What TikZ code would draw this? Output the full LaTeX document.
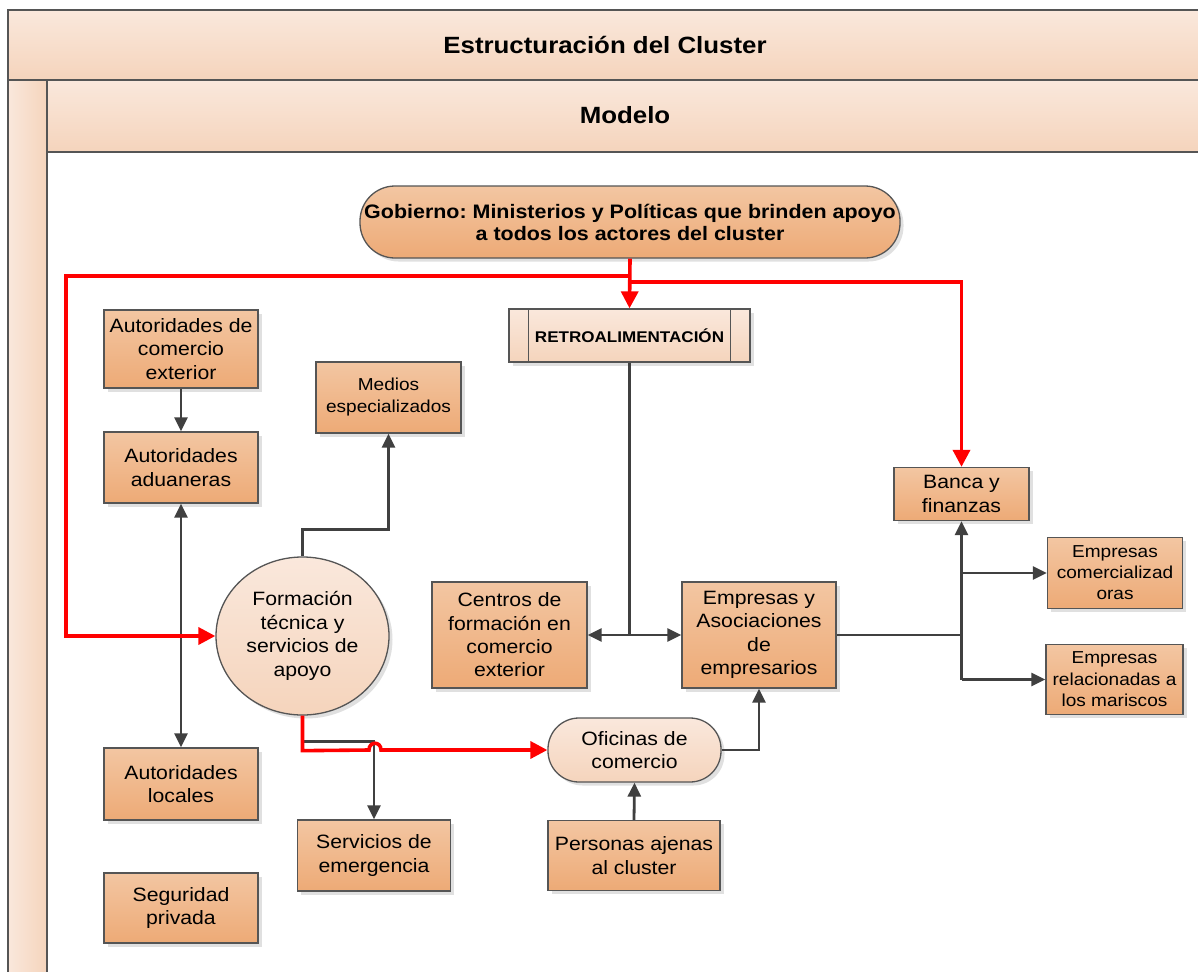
\documentclass[tikz,border=0pt]{standalone}
\usepackage{fontspec}
\setmainfont{Liberation Sans}[FakeStretch=1.1]
\usetikzlibrary{arrows.meta,shapes.geometric,shadows,calc}
\frenchspacing

\definecolor{boxtop}{HTML}{F3C6A2}
\definecolor{boxbot}{HTML}{EDAA76}
\definecolor{paletop}{HTML}{FAE8DC}
\definecolor{palebot}{HTML}{F5D4BC}
\definecolor{edge}{HTML}{555555}
\definecolor{wire}{HTML}{404040}
\definecolor{alert}{HTML}{FF0000}

\tikzset{
  softshadow/.style={drop shadow={shadow xshift=3.5pt, shadow yshift=-3.5pt, fill=black, opacity=0.12}},
  actor/.style={rectangle, draw=edge, line width=1.3pt, top color=boxtop, bottom color=boxbot,
    inner sep=0pt, align=center, softshadow, font=\fontsize{19.3}{23.5}\selectfont},
  paleactor/.style={draw=edge, line width=1.3pt, top color=paletop, bottom color=palebot,
    inner sep=0pt, align=center, softshadow, font=\fontsize{19.3}{23.5}\selectfont},
  wiretip/.tip={Triangle[length=14pt,width=13pt]},
  redtip/.tip={Triangle[length=17pt,width=17pt]},
  wirearrow/.style={draw=wire, line width=2.8pt, -wiretip},
  wireline/.style={draw=wire, line width=2.8pt},
  redarrow/.style={draw=alert, line width=3.6pt, -redtip},
  headtext/.style={font=\fontsize{23.5}{28}\selectfont\bfseries},
}

\begin{document}
\begin{tikzpicture}[x=1pt,y=-1pt]
\useasboundingbox (0,0) rectangle (1198,971);
\fill[white] (0,0) rectangle (1198,971);
\begin{scope}
\clip (0,0) rectangle (1198,971);

% frame: title band, side lane and model band
\shade[top color=paletop, bottom color=palebot] (8,10) rectangle (1210,80);
\shade[left color=paletop, right color=palebot] (8,80) rectangle (47,990);
\shade[top color=paletop, bottom color=palebot] (47,80) rectangle (1210,152);
\draw[edge, line width=1.8pt] (8,990) -- (8,10) -- (1210,10);
\draw[edge, line width=1.8pt] (8,80) -- (1210,80);
\draw[edge, line width=1.8pt] (47,80) -- (47,990);
\draw[edge, line width=1.8pt] (47,152) -- (1210,152);

\node[headtext] (title) at (605,45) {Estructuración del Cluster};
\node[headtext] (modelo) at (625,115) {Modelo};

% actors
\node[actor, minimum width=540pt, minimum height=72pt, rounded corners=35pt,
      font=\fontsize{19.5}{22}\selectfont\bfseries] (gob) at (630,222)
  {Gobierno: Ministerios y Políticas que brinden apoyo\\a todos los actores del cluster};

\node[paleactor, rectangle, minimum width=241pt, minimum height=53pt,
      font=\fontsize{15.5}{18}\selectfont\bfseries] (retro) at (629.5,335.5) {RETROALIMENTACIÓN};
\draw[edge, line width=1.3pt] ($(retro.north west)+(20,0)$) -- ($(retro.south west)+(20,0)$);
\draw[edge, line width=1.3pt] ($(retro.north east)+(-20,0)$) -- ($(retro.south east)+(-20,0)$);

\node[actor, minimum width=154pt, minimum height=78pt] (ace) at (181,349)
  {Autoridades de\\comercio\\exterior};
\node[actor, minimum width=154pt, minimum height=71pt] (adu) at (181,467.5)
  {Autoridades\\aduaneras};
\node[actor, minimum width=154pt, minimum height=72pt] (loc) at (181,784)
  {Autoridades\\locales};
\node[actor, minimum width=154pt, minimum height=70pt] (seg) at (181,908)
  {Seguridad\\privada};

\node[actor, minimum width=145pt, minimum height=71pt,
      font=\fontsize{17.3}{22}\selectfont] (med) at (388.5,397.5)
  {Medios\\especializados};

\node[paleactor, ellipse, minimum width=173pt, minimum height=158pt] (form) at (302.5,636)
  {Formación\\técnica y\\servicios de\\apoyo};

\node[actor, minimum width=153pt, minimum height=71pt] (serv) at (374,855.5)
  {Servicios de\\emergencia};

\node[actor, minimum width=155pt, minimum height=106pt,
      font=\fontsize{19.3}{23.3}\selectfont] (cen) at (509.5,635)
  {Centros de\\formación en\\comercio\\exterior};
\node[actor, minimum width=154pt, minimum height=106pt,
      font=\fontsize{19.3}{23.3}\selectfont] (emp) at (759,635)
  {Empresas y\\Asociaciones\\de\\empresarios};

\node[paleactor, rectangle, minimum width=173pt, minimum height=64pt, rounded corners=31pt] (ofi) at (634.5,750)
  {Oficinas de\\comercio};
\node[actor, minimum width=172pt, minimum height=70pt] (per) at (634,855.5)
  {Personas ajenas\\al cluster};

\node[actor, minimum width=135pt, minimum height=53pt,
      font=\fontsize{19.3}{24}\selectfont] (ban) at (961.5,494)
  {Banca y\\finanzas};
\node[actor, minimum width=135pt, minimum height=71pt,
      font=\fontsize{17.3}{21}\selectfont] (ecom) at (1115,573)
  {Empresas\\comercializad\\oras};
\node[actor, minimum width=137pt, minimum height=70pt,
      font=\fontsize{17.3}{21.5}\selectfont] (erel) at (1114.5,679.5)
  {Empresas\\relacionadas a\\los mariscos};

% connection points
\coordinate (redleft) at (66,276);
\coordinate (redright) at (961.5,282);
\coordinate (split) at (retro.south |- cen.east);
\coordinate (hub) at (ban.south |- emp.east);

% dark connectors
\draw[wirearrow] (ace) -- (adu);
\draw[wireline, wiretip-wiretip] (adu) -- (loc);
\draw[wirearrow] (form.north) -- ++(0,-27) -| (med.south);
\draw[wirearrow] (form.south) -- ++(0,26) -| (serv.north);
\draw[wireline] (retro.south) -- (split);
\draw[wirearrow] (split) -- (cen.east);
\draw[wirearrow] (split) -- (emp.west);
\draw[wirearrow] (ofi.east) -| (emp.south);
\draw[wirearrow] (per.north) -- (ofi.south);
\draw[wireline] (emp.east) -- (hub);
\draw[wirearrow] (hub |- erel.west) -- (ban.south);
\draw[wirearrow] (hub |- ecom.west) -- (ecom.west);
\draw[wirearrow] (hub |- erel.west) -- (erel.west);

% government support lines
\draw[redarrow] (gob.south) -- (retro.north);
\draw[redarrow] (gob.south |- redleft) -- (redleft) |- (form.west);
\draw[redarrow] (gob.south |- redright) -| (ban.north);
\draw[redarrow] (form.south) -- ++(0,35) -- (369,750)
  .. controls (369,741) and (381,741) .. (381,750) -- (ofi.west);
\end{scope}
\end{tikzpicture}
\end{document}
